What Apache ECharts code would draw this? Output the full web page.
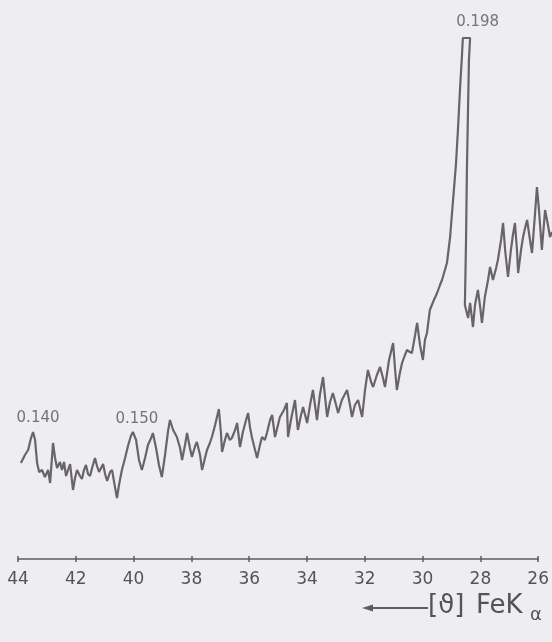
<!DOCTYPE html>
<html>
<head>
<meta charset="utf-8">
<script src="https://cdn.jsdelivr.net/npm/echarts@6/dist/echarts.min.js"></script>
<style>
html,body{margin:0;padding:0;background:#eeedf2;}
#c{width:552px;height:642px;}
</style>
</head>
<body>
<div id="c"></div>
<script>
// 2θ angle (degrees, FeKα)
const twoTheta = [
43.90,43.76,43.65,43.55,43.48,43.41,43.34,43.27,43.17,43.07,
42.96,42.89,42.79,42.72,42.65,42.55,42.48,42.41,42.34,42.27,
42.20,42.10,42.03,41.96,41.86,41.79,41.72,41.65,41.58,41.51,
41.44,41.34,41.27,41.20,41.13,41.06,40.99,40.92,40.82,40.75,
40.68,40.58,40.51,40.41,40.30,40.20,40.10,40.03,39.92,39.82,
39.72,39.61,39.51,39.40,39.34,39.23,39.13,39.03,38.92,38.82,
38.75,38.64,38.51,38.40,38.33,38.23,38.16,38.06,37.99,37.88,
37.82,37.71,37.64,37.54,37.47,37.37,37.30,37.19,37.06,36.99,
36.95,36.85,36.78,36.68,36.61,36.50,36.43,36.33,36.23,36.12,
36.05,35.98,35.92,35.81,35.74,35.64,35.57,35.47,35.40,35.29,
35.22,35.12,34.95,34.81,34.71,34.67,34.57,34.43,34.33,34.22,
34.15,34.01,33.91,33.81,33.67,33.57,33.46,33.32,33.22,33.12,
33.01,32.94,32.81,32.63,32.53,32.46,32.36,32.25,32.11,32.01,
31.91,31.80,31.73,31.60,31.49,31.39,31.32,31.18,31.04,30.97,
30.91,30.80,30.73,30.63,30.56,30.46,30.39,30.28,30.21,30.11,
30.01,29.94,29.87,29.77,29.63,29.52,29.42,29.35,29.25,29.18,
29.07,29.01,28.94,28.87,28.80,28.73,28.66,28.63,28.38,28.42,
28.49,28.52,28.56,28.45,28.38,28.28,28.21,28.11,28.04,27.97,
27.87,27.76,27.69,27.59,27.48,27.42,27.31,27.24,27.17,27.07,
26.97,26.90,26.83,26.76,26.72,26.62,26.55,26.48,26.41,26.31,
26.24,26.14,26.07,26.00,25.90,25.79,25.69,25.62,25.55
];
// relative intensity (arbitrary units)
const intensity = [
96,104,109,121,127,119,96,87,89,82,
89,76,116,101,91,97,89,97,83,89,
95,69,81,89,83,80,89,94,85,83,
91,101,93,87,91,95,85,78,87,89,
77,61,74,89,101,113,123,127,119,99,
89,101,114,121,126,111,94,82,104,127,
139,129,122,111,99,114,126,111,102,113,
117,104,89,101,109,116,122,134,150,127,
107,119,126,119,121,129,136,112,127,139,
146,131,122,109,101,114,122,119,126,139,
144,122,142,149,156,122,139,159,129,144,
152,136,154,169,139,164,182,142,157,166,
154,146,159,169,154,142,154,159,142,169,
189,177,172,184,192,181,172,199,216,189,
169,187,196,204,209,207,206,224,236,214,
199,219,226,249,259,266,274,279,289,296,
322,344,369,394,429,469,504,521,521,499,
389,319,254,241,256,232,254,269,254,236,
262,279,292,279,291,299,319,336,309,282,
309,324,336,309,286,309,322,331,339,319,
306,344,372,349,309,349,334,322,327
];
// labelled reflections: d-spacing labels and their peak positions
const peakLabels = ['0.140', '0.150', '0.198'];
const peakAngles = [43.48, 40.03, 28.50];
const peakValues = [127, 127, 521];
// x-axis tick settings (printed scale 44 → 26)
const axisMin = 26, axisMax = 44, axisStep = 2;
// the trace runs slightly past the 26° tick
const traceMin = 25.55;

const lineData = twoTheta.map((t, i) => [t, intensity[i]]);
const labelStyle = [
  { offset: [5, 0], distance: 6 },
  { offset: [4, 0], distance: 5 },
  { offset: [11, 0], distance: 8 }
];
const labelData = peakLabels.map((s, i) => ({
  value: [peakAngles[i], peakValues[i]],
  name: s,
  label: labelStyle[i]
}));

const ink = '#615b60';
const textInk = '#57525a';
const chart = echarts.init(document.getElementById('c'), null, { renderer: 'canvas' });
chart.setOption({
  backgroundColor: '#eeedf2',
  animation: false,
  grid: [
    { left: 18, right: 0, top: 38, bottom: 83, containLabel: false },
    { left: 18, right: 13, top: 38, bottom: 83, containLabel: false }
  ],
  xAxis: [{
    gridIndex: 0, type: 'value', inverse: true, min: traceMin, max: axisMax, show: false
  }, {
    gridIndex: 1, type: 'value', inverse: true, min: axisMin, max: axisMax, interval: axisStep,
    position: 'bottom',
    axisLine: { show: true, lineStyle: { color: ink, width: 1.5 } },
    axisTick: { show: true, inside: false, length: 3, lineStyle: { color: ink, width: 1.5 } },
    axisLabel: { show: true, margin: 12, color: textInk, fontFamily: 'DejaVu Sans', fontSize: 17 },
    splitLine: { show: false }
  }, {
    gridIndex: 1, type: 'value', inverse: true, min: axisMin, max: axisMax, interval: axisStep,
    position: 'bottom', offset: 0,
    axisLine: { show: false },
    axisTick: { show: true, inside: true, length: 3, lineStyle: { color: ink, width: 1.5 } },
    axisLabel: { show: false },
    splitLine: { show: false }
  }],
  yAxis: [
    { gridIndex: 0, type: 'value', min: 0, max: 521, show: false },
    { gridIndex: 1, type: 'value', min: 0, max: 521, show: false }
  ],
  series: [{
    type: 'line',
    data: lineData,
    xAxisIndex: 0, yAxisIndex: 0,
    showSymbol: false,
    symbol: 'none',
    clip: false,
    lineStyle: { color: '#69636a', width: 2.2 },
    z: 3
  }, {
    type: 'scatter',
    data: labelData,
    xAxisIndex: 0, yAxisIndex: 0,
    symbolSize: 1,
    itemStyle: { color: 'rgba(0,0,0,0)' },
    clip: false,
    label: {
      show: true, position: 'top',
      formatter: p => p.name,
      color: textInk, fontFamily: 'DejaVu Sans', fontSize: 15
    },
    z: 4
  }],
  graphic: [
    { type: 'line', shape: { x1: 370, y1: 608, x2: 428, y2: 608 }, style: { stroke: ink, lineWidth: 2 } },
    { type: 'polygon', shape: { points: [[362, 608], [373, 604.5], [373, 611.5]] }, style: { fill: ink } },
    { type: 'text', left: 428, top: 593, style: { text: '[ϑ]', fill: textInk, font: '26px "DejaVu Sans"' } },
    { type: 'text', left: 476, top: 593, style: { text: 'FeK', fill: textInk, font: '26px "DejaVu Sans"' } },
    { type: 'text', left: 530, top: 606, style: { text: 'α', fill: textInk, font: '18px "DejaVu Sans"' } }
  ]
});
</script>
</body>
</html>
